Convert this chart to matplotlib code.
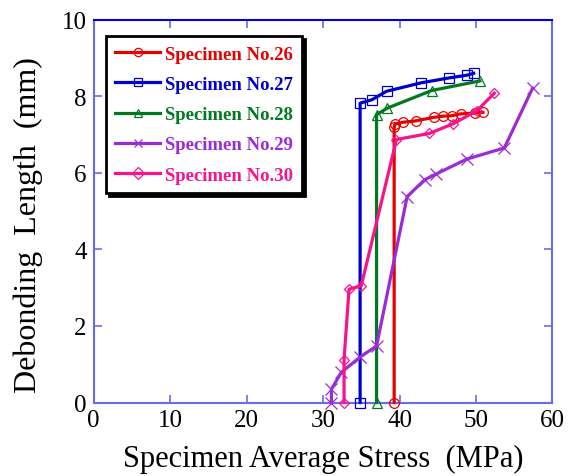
import matplotlib
matplotlib.use("Agg")
import matplotlib.pyplot as plt

# Data
s26_x = [39.3, 39.3, 39.4, 40.4, 42.2, 44.5, 45.7, 46.8, 48.0, 49.9, 50.9]
s26_y = [0.0, 7.19, 7.27, 7.32, 7.36, 7.45, 7.48, 7.49, 7.54, 7.56, 7.58]
s27_x = [34.85, 34.85, 36.4, 38.3, 42.8, 46.5, 48.8, 49.7]
s27_y = [0.0, 7.82, 7.91, 8.13, 8.35, 8.48, 8.55, 8.60]
s28_x = [37.0, 37.0, 38.4, 44.2, 50.5]
s28_y = [0.0, 7.52, 7.69, 8.15, 8.40]
s29_x = [31.1, 31.1, 32.4, 34.8, 37.0, 41.0, 43.3, 44.8, 48.8, 53.7, 57.4]
s29_y = [0.0, 0.35, 0.79, 1.18, 1.48, 5.38, 5.82, 5.97, 6.36, 6.65, 8.21]
s30_x = [32.75, 32.75, 33.4, 35.0, 39.6, 43.9, 47.0, 50.1, 52.4]
s30_y = [0.0, 1.12, 2.96, 3.05, 6.87, 7.03, 7.28, 7.62, 8.08]

labels = ["Specimen No.26", "Specimen No.27", "Specimen No.28",
          "Specimen No.29", "Specimen No.30"]
colors = ["#e60000", "#0000cc", "#007a1f", "#9a2bd6", "#f5148c"]
markers = ["o", "s", "^", "x", "D"]
msizes = [7, 7, 6.5, 8, 5]

xticks = [0, 10, 20, 30, 40, 50, 60]
yticks = [0, 2, 4, 6, 8, 10]

series = [(s26_x, s26_y), (s27_x, s27_y), (s28_x, s28_y), (s29_x, s29_y), (s30_x, s30_y)]

plt.rcParams['font.family'] = ['Liberation Serif', 'DejaVu Serif']

fig = plt.figure(figsize=(5.74, 4.77), dpi=100)
ax = fig.add_axes([0.163, 0.154, 0.7995, 0.8026])

for (xs, ys), lab, c, m, ms in zip(series, labels, colors, markers, msizes):
    ax.plot(xs, ys, color=c, lw=2.3, marker=m, ms=ms, mfc='none', mec=c,
            mew=0.9, label=lab, clip_on=False, zorder=3)

ax.set_xlim(0, 60)
ax.set_ylim(0, 10)
ax.set_xticks(xticks)
ax.set_yticks(yticks)
ax.tick_params(direction='in', length=6, width=1.2, color='#6a6aee',
               labelsize=18, top=True, right=True, pad=5)
for side in ['left', 'bottom', 'right']:
    ax.spines[side].set_color('#6a6aee')
    ax.spines[side].set_linewidth(1.5)
ax.spines['top'].set_color('#0000dd')
ax.spines['top'].set_linewidth(1.5)

ax.set_xlabel("Specimen Average Stress  (MPa)", fontsize=22, labelpad=9)
ax.set_ylabel("Debonding  Length  (mm)", fontsize=23)
ax.yaxis.set_label_coords(-0.110, 0.465)

leg = ax.legend(loc='upper left', bbox_to_anchor=(0.027, 0.957),
                borderaxespad=0, frameon=True, fancybox=False,
                edgecolor='black', framealpha=1,
                shadow={'color': 'black', 'alpha': 1},
                prop={'family': ['Liberation Serif'], 'weight': 'bold', 'size': 13.5},
                labelcolor='linecolor', handlelength=2.4, handletextpad=0.25,
                labelspacing=0.7, borderpad=0.5)
leg.get_frame().set_linewidth(2)
for h in leg.legend_handles:
    h.set_markersize(6)

fig.savefig("out.png", dpi=100)
